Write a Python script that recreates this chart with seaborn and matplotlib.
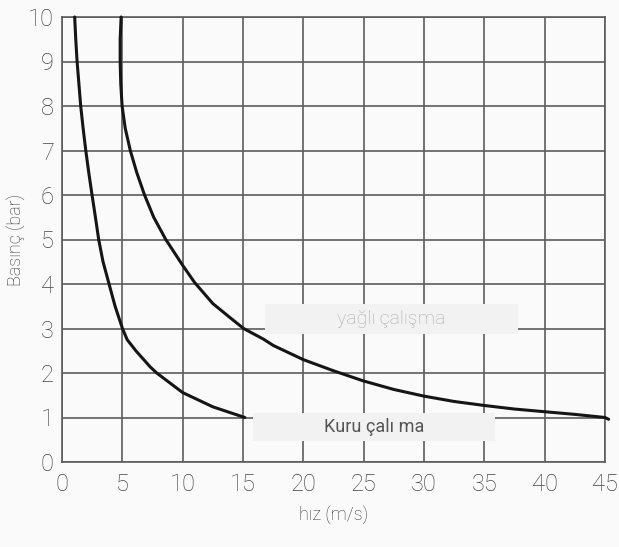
import numpy as np
import pandas as pd
import seaborn as sns
import matplotlib.pyplot as plt
from matplotlib.patches import Rectangle

# values
dry_x = [1.05, 1.14, 1.25, 1.55, 1.75, 1.97, 2.22, 2.49, 2.77, 3.04, 3.40, 3.90,
         4.40, 5.01, 5.40, 6.12, 7.30, 7.85, 10.0, 12.5, 15.15]
dry_y = [10.0, 9.5, 9.0, 8.0, 7.5, 7.0, 6.5, 6.0, 5.5, 5.0, 4.5, 4.0,
         3.5, 3.0, 2.75, 2.5, 2.14, 2.0, 1.56, 1.24, 1.0]

oil_x = [4.90, 4.82, 4.82, 4.87, 4.98, 5.24, 5.66, 6.20, 6.84, 7.60, 8.60, 10.0,
         11.0, 12.5, 13.9, 15.05, 16.7, 17.5, 20.0, 22.5, 25.0, 27.5, 30.0,
         32.5, 35.0, 37.5, 40.0, 42.5, 45.0, 45.3]
oil_y = [10.0, 9.5, 9.0, 8.5, 8.0, 7.5, 7.0, 6.5, 6.0, 5.5, 5.0, 4.42,
         4.03, 3.56, 3.25, 3.0, 2.76, 2.62, 2.30, 2.05, 1.82, 1.63, 1.48,
         1.36, 1.27, 1.19, 1.13, 1.07, 1.0, 0.96]

x_ticks = [0, 5, 10, 15, 20, 25, 30, 35, 40, 45]
y_ticks = list(range(0, 11))

label_dry = "Kuru çalı ma"
label_oil = "yağlı çalışma"
x_label = "hız (m/s)"
y_label = "Basınç (bar)"

df = pd.concat([
    pd.DataFrame({"x": dry_x, "y": dry_y, "kind": "dry"}),
    pd.DataFrame({"x": oil_x, "y": oil_y, "kind": "oil"}),
])

sns.set_theme(style="white")
plt.rcParams["font.family"] = ["Roboto", "DejaVu Sans"]
bg = "#fafafa"
grid_c = "#5c5c5c"
txt_c = "#444444"

fig = plt.figure(figsize=(6.19, 5.47), dpi=100, facecolor=bg)
ax = fig.add_axes([62 / 619, 85 / 547, 543 / 619, 445 / 547])
ax.set_facecolor(bg)

for kind, g in df.groupby("kind"):
    sns.lineplot(data=g, x="x", y="y", sort=False, estimator=None,
                 color="#151515", linewidth=2.2, ax=ax, zorder=4)
for ln in ax.lines:
    ln.set_clip_on(False)
    ln.set_solid_joinstyle("round")

ax.set_xlim(0, 45)
ax.set_ylim(0, 10)
ax.set_xticks(x_ticks)
ax.set_yticks(y_ticks)
ax.grid(True, color=grid_c, linewidth=1.2, zorder=1)
ax.set_axisbelow(True)
for s in ax.spines.values():
    s.set_color(grid_c)
    s.set_linewidth(1.2)
ax.tick_params(axis="both", length=0, labelsize=17, labelcolor=txt_c)
ax.tick_params(axis="x", pad=8)
ax.tick_params(axis="y", pad=6)
for lab in ax.get_xticklabels() + ax.get_yticklabels():
    lab.set_fontweight("light")

ax.set_xlabel(x_label, fontsize=13, color="#333333", fontweight="light")
ax.set_ylabel(y_label, fontsize=13, color="#333333", fontweight="light")
ax.xaxis.set_label_coords(0.5, -0.097)
ax.yaxis.set_label_coords(-0.068, 0.5)

# label boxes
ax.add_patch(Rectangle((16.8, 2.88), 21.0, 0.67, facecolor="#f2f2f2",
                       edgecolor="none", zorder=3))
ax.text(27.3, 3.21, label_oil, ha="center", va="center", fontsize=14,
        color="#aaaaaa", fontweight="light", zorder=5)
ax.add_patch(Rectangle((15.85, 0.47), 20.05, 0.63, facecolor="#f2f2f2",
                       edgecolor="none", zorder=3))
ax.text(25.9, 0.79, label_dry, ha="center", va="center", fontsize=13,
        color="#555555", zorder=5)

fig.savefig("out.png", dpi=100, facecolor=bg)
